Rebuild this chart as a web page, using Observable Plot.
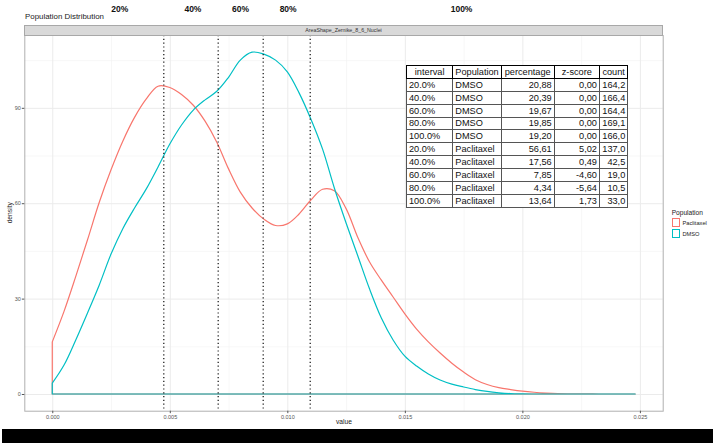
<!DOCTYPE html>
<html><head><meta charset="utf-8">
<script src="https://cdn.jsdelivr.net/npm/d3@7"></script>
<script src="https://cdn.jsdelivr.net/npm/@observablehq/plot@0.6"></script>
<style>
body{margin:0;background:#fff;font-family:"Liberation Sans",Arial,sans-serif;}
#wrap{position:relative;width:715px;height:445px;overflow:hidden;background:#fff;}
#chart{position:absolute;left:0;top:0;}
#title{position:absolute;left:25px;top:12px;font-size:7.9px;color:#222;line-height:10px;white-space:nowrap;}
#strip{position:absolute;left:24.3px;top:25px;width:638.4px;height:10.5px;background:#d9d9d9;border:1px solid #a8a8a8;box-sizing:border-box;font-size:5.3px;color:#333;text-align:center;line-height:8.5px;}
#tbl{position:absolute;left:406px;top:65px;border-collapse:collapse;font-size:9.2px;color:#111;background:#fff;table-layout:fixed;width:221.3px;border:1.5px solid #000;}
#tbl tr{height:12.88px;}
#tbl td,#tbl th{border:1px solid #555;height:11.6px;padding:0 2px;line-height:10px;white-space:nowrap;overflow:hidden;}
#tbl th{font-weight:normal;border:1.6px solid #000;text-align:center;}
#tbl td.r{text-align:right;}
#legend{position:absolute;left:671.7px;top:208px;color:#222;}
#legend .lt{font-size:6.6px;line-height:9px;white-space:nowrap;}
#legend .row{display:flex;align-items:center;height:11px;}
#legend .key{width:6.6px;height:6.6px;border:1px solid;box-sizing:content-box;margin-right:2.2px;background:#fff;}
#legend .lab{font-size:5.7px;white-space:nowrap;}
#bar{position:absolute;left:2px;top:429px;width:711px;height:14px;background:#000;}
</style>
</head><body>
<div id="wrap">
  <div id="chart"></div>
  <div id="title">Population Distribution</div>
  <div id="strip">AreaShape_Zernike_8_6_Nuclei</div>
  <table id="tbl"></table>
  <div id="legend"></div>
  <div id="bar"></div>
</div>
<script>
// ---- data ----
const xGrid = [0,0.0005,0.001,0.0015,0.002,0.0025,0.003,0.0035,0.004,0.0045,0.005,0.0055,0.006,0.0065,0.007,0.0075,0.008,0.0085,0.009,0.0095,0.01,0.0105,0.011,0.0115,0.012,0.0125,0.013,0.0135,0.014,0.0145,0.015,0.0155,0.016,0.0165,0.017,0.0175,0.018,0.0185,0.019,0.0195,0.02,0.0205,0.021,0.0215,0.022,0.0225,0.023,0.0235,0.024,0.0245,0.0248];
const paclitaxelDensity = [16.4,26.0,37.0,48.5,60.3,70.5,79.5,87.0,92.8,96.8,96.4,94.2,90.8,85.8,79.2,70.8,63.5,58.5,55.0,53.0,53.5,56.6,61.0,64.4,63.9,58.3,49.2,41.5,35.8,30.5,25.2,20.4,16.4,12.9,9.7,6.9,4.5,3.0,2.0,1.4,0.9,0.55,0.3,0.12,0.05,0.02,0.01,0,0,0,0];
const dmsoDensity = [3.4,9.1,17.0,25.5,34.3,44.0,52.0,58.5,64.5,71.4,78.6,84.6,89.3,92.5,95.2,99.6,105.0,107.5,106.9,105.0,101.3,94.7,86.5,77.0,64.8,53.8,43.4,33.0,23.9,17.0,11.9,8.8,6.3,4.4,3.1,2.2,1.4,0.8,0.4,0.15,0.05,0,0,0,0,0,0,0,0,0,0];
const cutValues = [0.004723,0.007038,0.008953,0.010953];
const topLabels = ["20%","40%","60%","80%","100%"];
const topLabelPositions = [0.002847,0.005962,0.007991,0.010013,0.017391];
const xTicks = [0,0.005,0.01,0.015,0.02,0.025];
const xMinor = [0.0025,0.0075,0.0125,0.0175,0.0225];
const yTicks = [0,30,60,90];
const yMinor = [15,45,75,105];
const populations = ["Paclitaxel","DMSO"];
const popColors = ["#F8766D","#00BFC4"];

const tblInterval = ["20.0%","40.0%","60.0%","80.0%","100.0%","20.0%","40.0%","60.0%","80.0%","100.0%"];
const tblPopulation = ["DMSO","DMSO","DMSO","DMSO","DMSO","Paclitaxel","Paclitaxel","Paclitaxel","Paclitaxel","Paclitaxel"];
const tblPercentage = [20.88,20.39,19.67,19.85,19.20,56.61,17.56,7.85,4.34,13.64];
const tblZscore = [0.00,0.00,0.00,0.00,0.00,5.02,0.49,-4.60,-5.64,1.73];
const tblCount = [164.2,166.4,164.4,169.1,166.0,137.0,42.5,19.0,10.5,33.0];
const tblHeaders = ["interval","Population","percentage","z-score","count"];

// ---- build ----
const pacRows = xGrid.map((x,i)=>({x, d: paclitaxelDensity[i]}));
const dmsoRows = xGrid.map((x,i)=>({x, d: dmsoDensity[i]}));
const labelRows = topLabels.map((t,i)=>({t, x: topLabelPositions[i]}));

const chart = Plot.plot({
  width: 715, height: 430,
  marginLeft: 24.3, marginRight: 52.3, marginTop: 35, marginBottom: 19.3,
  x: {domain: [-0.00119, 0.02597]},
  y: {domain: [-5.25, 112.9]},
  style: {fontFamily: "Liberation Sans, Arial, sans-serif", background: "transparent", overflow: "visible"},
  marks: [
    Plot.ruleX(xMinor, {stroke: "#f2f2f2", strokeWidth: 0.6}),
    Plot.ruleY(yMinor, {stroke: "#f2f2f2", strokeWidth: 0.6}),
    Plot.ruleX(xTicks, {stroke: "#ebebeb", strokeWidth: 1}),
    Plot.ruleY(yTicks, {stroke: "#ebebeb", strokeWidth: 1}),
    Plot.areaY(pacRows, {x: "x", y: "d", fill: "none", stroke: popColors[0], strokeWidth: 1.2, curve: "catmull-rom"}),
    Plot.areaY(dmsoRows, {x: "x", y: "d", fill: "none", stroke: popColors[1], strokeWidth: 1.2, curve: "catmull-rom"}),
    Plot.ruleX(cutValues, {stroke: "#222", strokeWidth: 1.3, strokeDasharray: "1.2,2.6"}),
    Plot.frame({stroke: "#b0b0b0"}),
    Plot.axisX({ticks: xTicks, tickFormat: d3.format(".3f"), tickSize: 2.5, tickPadding: 1.5, fontSize: 5.5, color: "#555", label: null}),
    Plot.axisY({ticks: yTicks, tickFormat: d3.format("d"), tickSize: 2.5, tickPadding: 1.5, fontSize: 5.5, color: "#555", label: null}),
    Plot.text(["value"], {text: d => d, frameAnchor: "bottom", dy: 12.3, fontSize: 6.7, fill: "#222"}),
    Plot.text(["density"], {text: d => d, frameAnchor: "left", dx: -15.3, rotate: -90, fontSize: 6.7, fill: "#222"}),
    Plot.text(labelRows, {x: "x", text: "t", frameAnchor: "top", dy: -29.3, fontSize: 8.5, fontWeight: "bold", fill: "#111"})
  ]
});
document.getElementById("chart").appendChild(chart);

// table
const tbl = document.getElementById("tbl");
const colW = [46.3, 48.4, 53, 45.3, 28.3];
let html = "<colgroup>" + colW.map(w => `<col style="width:${w}px">`).join("") + "</colgroup>";
html += "<tr>" + tblHeaders.map(h => `<th>${h}</th>`).join("") + "</tr>";
const fmt = (v, n) => v.toFixed(n).replace(".", ",");
tblInterval.forEach((iv, i) => {
  html += `<tr><td>${iv}</td><td>${tblPopulation[i]}</td><td class="r">${fmt(tblPercentage[i],2)}</td><td class="r">${fmt(tblZscore[i],2)}</td><td class="r">${fmt(tblCount[i],1)}</td></tr>`;
});
tbl.innerHTML = html;

// legend
const leg = document.getElementById("legend");
leg.innerHTML = `<div class="lt">Population</div>` + populations.map((p,i) =>
  `<div class="row"><div class="key" style="border-color:${popColors[i]}"></div><div class="lab">${p}</div></div>`).join("");
</script>
</body></html>
